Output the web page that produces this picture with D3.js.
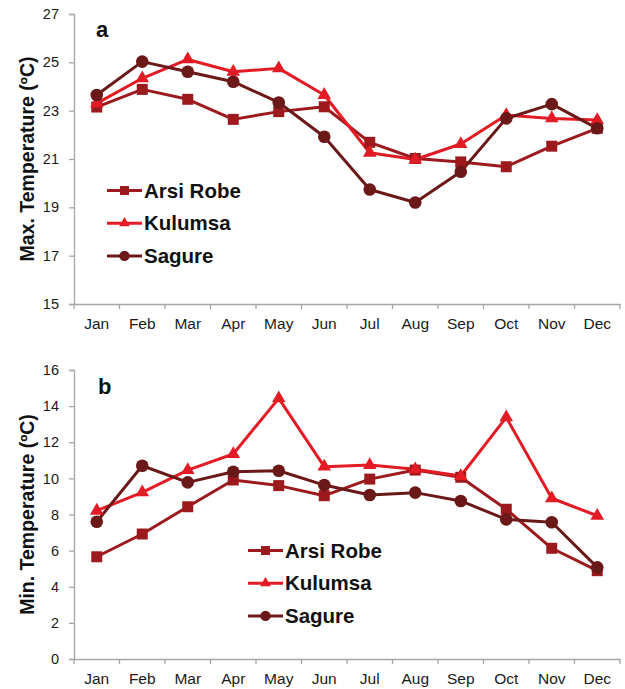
<!DOCTYPE html>
<html><head><meta charset="utf-8">
<script src="https://cdn.jsdelivr.net/npm/d3@7"></script>
<style>body{margin:0;background:#fff;}svg{display:block;font-family:"Liberation Sans",Arial,sans-serif;}</style>
</head><body><svg id="c" width="625" height="689"></svg>
<script>
const months = ["Jan","Feb","Mar","Apr","May","Jun","Jul","Aug","Sep","Oct","Nov","Dec"];
const seriesNames = ["Arsi Robe","Kulumsa","Sagure"];
const maxArsiRobe = [23.15,23.88,23.47,22.64,22.96,23.16,21.69,21.02,20.88,20.68,21.53,22.27];
const maxKulumsa  = [23.3,24.34,25.12,24.61,24.75,23.65,21.26,20.98,21.62,22.82,22.68,22.61];
const maxSagure   = [23.65,25.03,24.61,24.2,23.34,21.92,19.74,19.2,20.47,22.68,23.27,22.27];
const minArsiRobe = [5.66,6.92,8.43,9.91,9.6,9.04,9.96,10.46,10.06,8.29,6.13,4.89];
const minKulumsa  = [8.21,9.23,10.46,11.35,14.43,10.65,10.74,10.5,10.13,13.38,8.9,7.93];
const minSagure   = [7.6,10.7,9.78,10.37,10.42,9.63,9.08,9.21,8.75,7.73,7.57,5.07];
const maxTicks = [15,17,19,21,23,25,27];
const minTicks = [0,2,4,6,8,10,12,14,16];

const colors = ["#9c1a1e","#e31b25","#6b1818"];
const symbols = [d3.symbolSquare, d3.symbolTriangle, d3.symbolCircle];
const symSizes = [121, 80, 125];
const legSizes = [81, 50, 85];

const svg = d3.select("#c");

function panel(cfg){
  const g = svg.append("g");
  const x = d3.scaleBand().domain(months).range([74, 620]);
  const y = d3.scaleLinear().domain(cfg.domain).range([cfg.bottom, cfg.top]);
  // y axis
  const ya = g.append("g").attr("transform","translate(74,0)")
    .call(d3.axisLeft(y).tickValues(cfg.ticks).tickSize(5).tickPadding(10));
  ya.selectAll("path,line").attr("stroke","#a6a6a6").attr("stroke-width",1.3);
  ya.selectAll("text").attr("font-size",14.5).attr("fill","#1a1a1a").attr("font-family","Liberation Sans, Arial, sans-serif");
  // x axis
  const xa = g.append("g").attr("transform",`translate(0,${cfg.bottom})`)
    .call(d3.axisBottom(x).tickSize(0).tickPadding(14));
  xa.select("path").attr("stroke","#a6a6a6").attr("stroke-width",1.3);
  xa.selectAll("text").attr("font-size",15.5).attr("fill","#1a1a1a").attr("font-family","Liberation Sans, Arial, sans-serif");
  const bounds = months.map(m=>x(m)).concat([x.range()[1]]);
  xa.selectAll(".bt").data(bounds).enter().append("line")
    .attr("x1",d=>d).attr("x2",d=>d).attr("y1",0).attr("y2",5)
    .attr("stroke","#a6a6a6").attr("stroke-width",1.3);
  // axis title
  g.append("text").attr("transform",`translate(34,${(cfg.top+cfg.bottom)/2}) rotate(-90)`)
    .attr("text-anchor","middle").attr("font-weight","bold").attr("font-size",19.5).attr("fill","#111")
    .text(cfg.title);
  // panel letter
  g.append("text").attr("x",cfg.letterX).attr("y",cfg.letterY).attr("font-weight","bold")
    .attr("font-size",22).attr("fill","#111").text(cfg.letter);
  // series
  const line = d3.line().x((d,i)=>x(months[i])+x.bandwidth()/2).y(d=>y(d));
  cfg.data.forEach((vals,si)=>{
    g.append("path").datum(vals).attr("d",line).attr("fill","none")
      .attr("stroke",colors[si]).attr("stroke-width",3).attr("stroke-linejoin","round");
  });
  cfg.data.forEach((vals,si)=>{
    g.selectAll(null).data(vals).enter().append("path")
      .attr("d",d3.symbol().type(symbols[si]).size(symSizes[si]))
      .attr("transform",(d,i)=>`translate(${x(months[i])+x.bandwidth()/2},${y(d)})`)
      .attr("fill",colors[si]);
  });
  // legend
  seriesNames.forEach((n,si)=>{
    const ly = cfg.legY + si*cfg.legGap;
    g.append("line").attr("x1",cfg.legX).attr("x2",cfg.legX+35).attr("y1",ly).attr("y2",ly)
      .attr("stroke",colors[si]).attr("stroke-width",3);
    g.append("path").attr("d",d3.symbol().type(symbols[si]).size(legSizes[si]))
      .attr("transform",`translate(${cfg.legX+17.5},${ly})`).attr("fill",colors[si]);
    g.append("text").attr("x",cfg.legX+37).attr("y",ly+7).attr("font-weight","bold")
      .attr("font-size",20.5).attr("fill","#111").text(n);
  });
}

panel({domain:[15,27], ticks:maxTicks, top:14, bottom:304, title:"Max. Temperature (ºC)",
  letter:"a", letterX:96, letterY:37, data:[maxArsiRobe,maxKulumsa,maxSagure],
  legX:107, legY:190.5, legGap:32.7});
panel({domain:[0,16], ticks:minTicks, top:370, bottom:659, title:"Min. Temperature (ºC)",
  letter:"b", letterX:98, letterY:394, data:[minArsiRobe,minKulumsa,minSagure],
  legX:248, legY:550.5, legGap:32.7});
</script></body></html>
